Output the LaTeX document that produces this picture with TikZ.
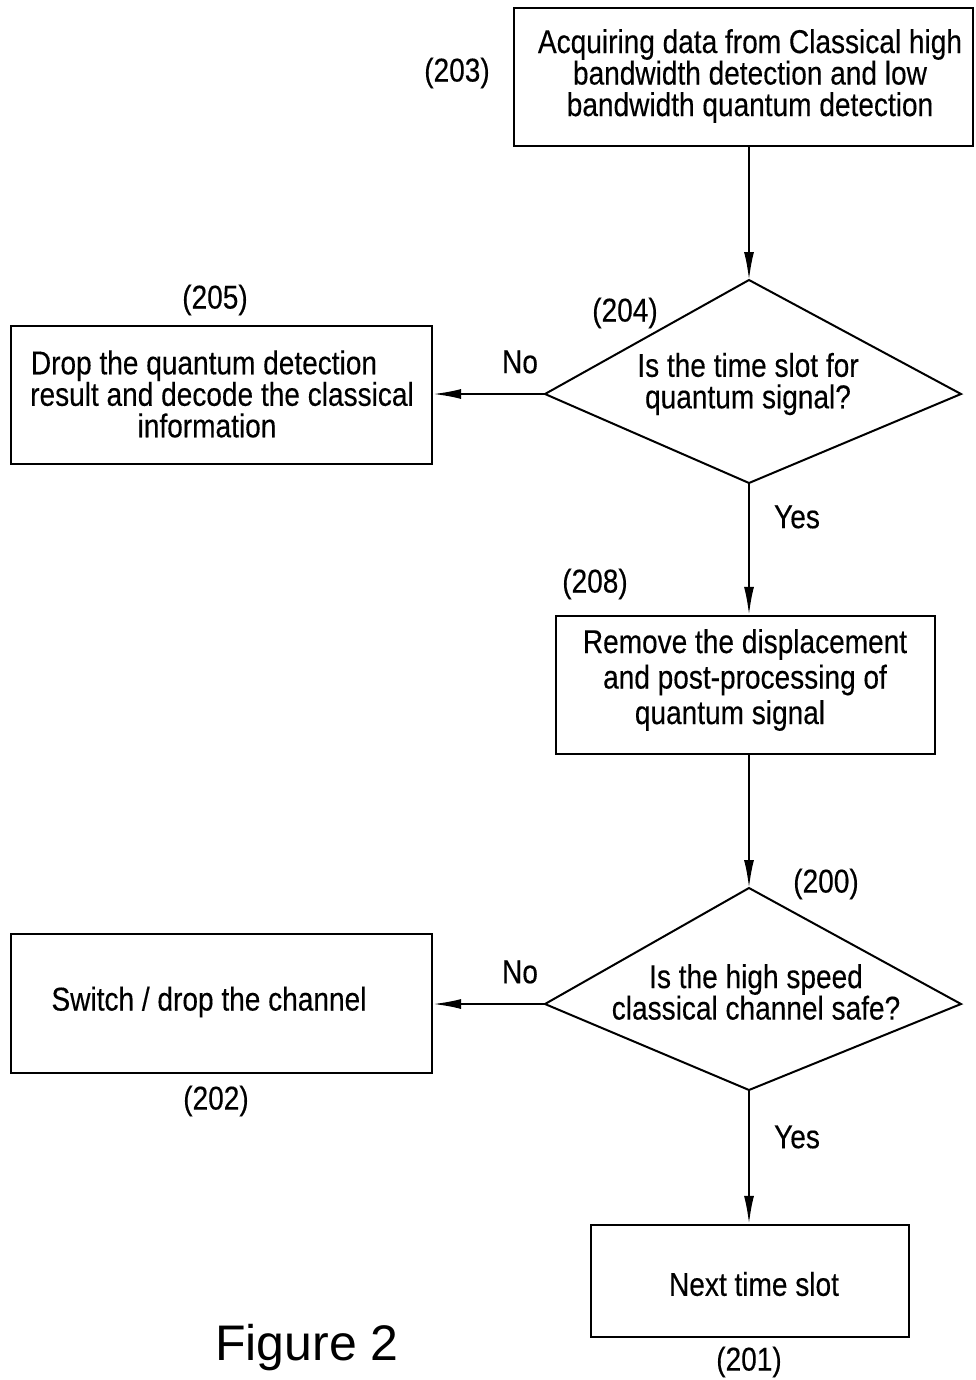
\documentclass[tikz,border=0pt]{standalone}
\usepackage{fontspec}
\setmainfont{Liberation Sans}
\newfontfamily\condfont[FakeStretch=0.85,FakeBold=0.3]{Liberation Sans}
\usetikzlibrary{arrows.meta}
\begin{document}
\begin{tikzpicture}[x=1pt,y=-1pt,
  box/.style={draw,line width=2.2pt,inner sep=0pt},
  txt/.style={font=\condfont\fontsize{33}{31.5}\selectfont,align=center,inner sep=0pt},
  lbl/.style={font=\condfont\fontsize{33}{31.5}\selectfont,inner sep=0pt},
  arr/.style={line width=2pt,-{Latex[length=28pt,width=10pt]}},
  ln/.style={line width=2pt,line join=miter}]
\useasboundingbox (0,0) rectangle (975,1380);
% boxes
\node[box,minimum width=459pt,minimum height=138pt] (b203) at (743.5,77) {};
\node[box,minimum width=421pt,minimum height=138pt] (b205) at (221.5,395) {};
\node[box,minimum width=379pt,minimum height=138pt] (b208) at (745.5,685) {};
\node[box,minimum width=421pt,minimum height=139pt] (b202) at (221.5,1003.5) {};
\node[box,minimum width=318pt,minimum height=112pt] (b201) at (750,1281) {};
% diamonds
\coordinate (d204t) at (749,280);
\coordinate (d204l) at (545,394);
\coordinate (d204r) at (961,394);
\coordinate (d204b) at (749,483);
\draw[ln] (d204t) -- (d204r) -- (d204b) -- (d204l) -- cycle;
\coordinate (d200t) at (749,888);
\coordinate (d200l) at (545,1004);
\coordinate (d200r) at (961,1004);
\coordinate (d200b) at (749,1090);
\draw[ln] (d200t) -- (d200r) -- (d200b) -- (d200l) -- cycle;
% texts
\node[txt] (t203) at (750,76) {Acquiring data from Classical high\\bandwidth detection and low\\bandwidth quantum detection};
\node[txt] (t205) at (222,394) {Drop the quantum detection\hspace*{36pt}\\result and decode the classical\\\hspace*{-30pt}information};
\node[txt] (t204) at (748,384) {Is the time slot for\\quantum signal?};
\node[txt,font=\condfont\fontsize{33}{35.5}\selectfont] (t208) at (745,680) {Remove the displacement\\and post-processing of\\\hspace*{-30pt}quantum signal};
\node[txt] (t200) at (756,992) {Is the high speed\\classical channel safe?};
\node[txt] (t202) at (209,1002) {Switch / drop the channel};
\node[txt] (t201) at (754,1284) {Next time slot};
% labels
\node[lbl] (l203) at (457,73) {(203)};
\node[lbl] (l205) at (215,300) {(205)};
\node[lbl] (l204) at (625,313) {(204)};
\node[lbl] (n204) at (520,362) {No};
\node[lbl] (y204) at (797,517) {Yes};
\node[lbl] (l208) at (595,584) {(208)};
\node[lbl] (l200) at (826,884) {(200)};
\node[lbl] (n200) at (520,972) {No};
\node[lbl] (l202) at (216,1101) {(202)};
\node[lbl] (y200) at (797,1137) {Yes};
\node[lbl] (l201) at (749,1362) {(201)};
\node[font=\fontsize{50}{50}\selectfont,inner sep=0pt] (fig) at (307,1348) {Figure 2};
% connectors
\draw[arr] (d204t |- b203.south) -- (d204t);
\draw[arr] (d204l) -- (b205.east |- d204l);
\draw[arr] (d204b) -- (d204b |- b208.north);
\draw[arr] (d200t |- b208.south) -- (d200t);
\draw[arr] (d200l) -- (b202.east |- d200l);
\draw[arr] (d200b) -- (d200b |- b201.north);
\end{tikzpicture}
\end{document}
